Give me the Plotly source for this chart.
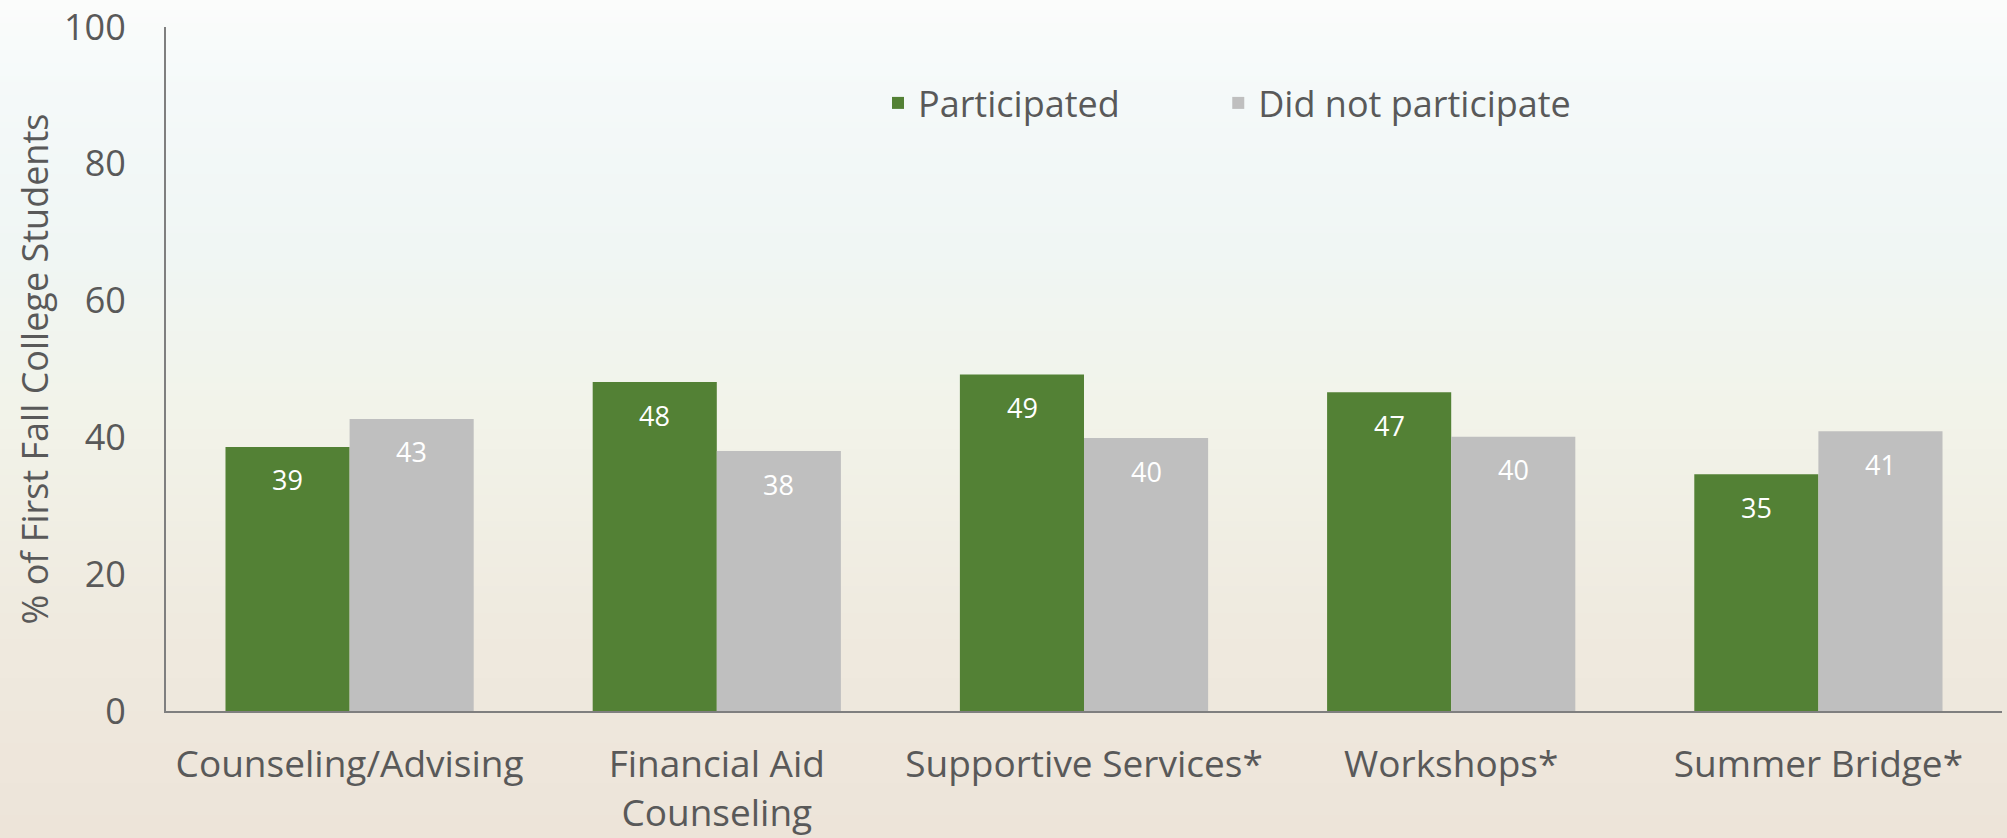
import base64
import struct
import zlib

import plotly.graph_objects as go

# data
programas = ["Counseling/Advising", "Financial Aid<br>Counseling", "Supportive Services*",
             "Workshops*", "Summer Bridge*"]
participou = [38.6, 48.1, 49.2, 46.6, 34.6]
nao_participou = [42.7, 38.0, 39.9, 40.1, 40.9]
rotulos_participou = ["39", "48", "49", "47", "35"]
rotulos_nao = ["43", "38", "40", "40", "41"]

verde = "#538135"
cinza = "#BFBFBF"
texto = "#595959"
fonte = "Open Sans"

W, H = 2007, 838
ml, mr, mt, mb = 166, 5, 27, 127
pw = W - ml - mr
ph = H - mt - mb


def fundo_png():
    # vertical light gradient for the slide-like background
    paradas = [(0.0, (251, 252, 251)), (0.12, (244, 249, 249)), (0.3, (240, 246, 244)),
               (0.5, (242, 243, 233)), (0.75, (239, 234, 223)), (1.0, (237, 228, 217))]
    alt = 128
    linhas = b""
    for i in range(alt):
        t = i / (alt - 1)
        for k in range(len(paradas) - 1):
            t0, c0 = paradas[k]
            t1, c1 = paradas[k + 1]
            if t0 <= t <= t1:
                f = (t - t0) / (t1 - t0)
                cor = bytes(int(round(a + (b - a) * f)) for a, b in zip(c0, c1))
                break
        linhas += b"\x00" + cor * 4

    def bloco(tipo, dados):
        c = struct.pack(">I", len(dados)) + tipo + dados
        return c + struct.pack(">I", zlib.crc32(tipo + dados) & 0xffffffff)

    png = b"\x89PNG\r\n\x1a\n"
    png += bloco(b"IHDR", struct.pack(">IIBBBBB", 4, alt, 8, 2, 0, 0, 0))
    png += bloco(b"IDAT", zlib.compress(linhas))
    png += bloco(b"IEND", b"")
    return "data:image/png;base64," + base64.b64encode(png).decode()


fig = go.Figure()

# trailing non-breaking spaces open up the gap between the two legend entries
fig.add_trace(go.Bar(x=programas, y=participou, name="Participated" + "\u00a0" * 10,
                     marker=dict(color=verde, line=dict(width=0))))
fig.add_trace(go.Bar(x=programas, y=nao_participou, name="Did not participate",
                     marker=dict(color=cinza, line=dict(width=0))))

# value labels a bit below the top of each bar
for i, p in enumerate(programas):
    fig.add_annotation(x=p, y=participou[i], text=rotulos_participou[i], xshift=-62, yshift=-33,
                       showarrow=False, font=dict(family=fonte, size=27, color="white"))
    fig.add_annotation(x=p, y=nao_participou[i], text=rotulos_nao[i], xshift=62, yshift=-33,
                       showarrow=False, font=dict(family=fonte, size=27, color="white"))

fig.add_layout_image(dict(source=fundo_png(), xref="paper", yref="paper",
                          x=-ml / pw, y=1 + mt / ph, sizex=W / pw, sizey=H / ph,
                          sizing="stretch", layer="below", xanchor="left", yanchor="top"))

fig.update_layout(
    width=W, height=H,
    margin=dict(l=ml, r=mr, t=mt, b=mb, autoexpand=False),
    barmode="group",
    bargap=0.324,
    bargroupgap=0,
    paper_bgcolor="#F2F2EC",
    plot_bgcolor="rgba(0,0,0,0)",
    font=dict(family=fonte, color=texto, size=36),
    legend=dict(orientation="h", x=(878 - ml) / pw, y=(H - mb - 103) / ph,
                xanchor="left", yanchor="middle", bgcolor="rgba(0,0,0,0)",
                font=dict(family=fonte, size=36, color=texto), itemwidth=30),
)

fig.update_xaxes(showline=True, linecolor="#7F7F7F", linewidth=2, ticks="",
                 tickfont=dict(family=fonte, size=37, color=texto), ticklabelstandoff=20,
                 showgrid=False)
fig.update_yaxes(range=[0, 100], dtick=20, showline=True, linecolor="#7F7F7F", linewidth=2,
                 showgrid=False, zeroline=False, ticks="",
                 tickfont=dict(family=fonte, size=36, color=texto), ticklabelstandoff=31,
                 title=dict(text="% of First Fall College Students",
                            font=dict(family=fonte, size=36, color=texto), standoff=4))

fig.write_html("out.html", config={"displayModeBar": False},
               post_script="document.body.style.margin='0px';")
